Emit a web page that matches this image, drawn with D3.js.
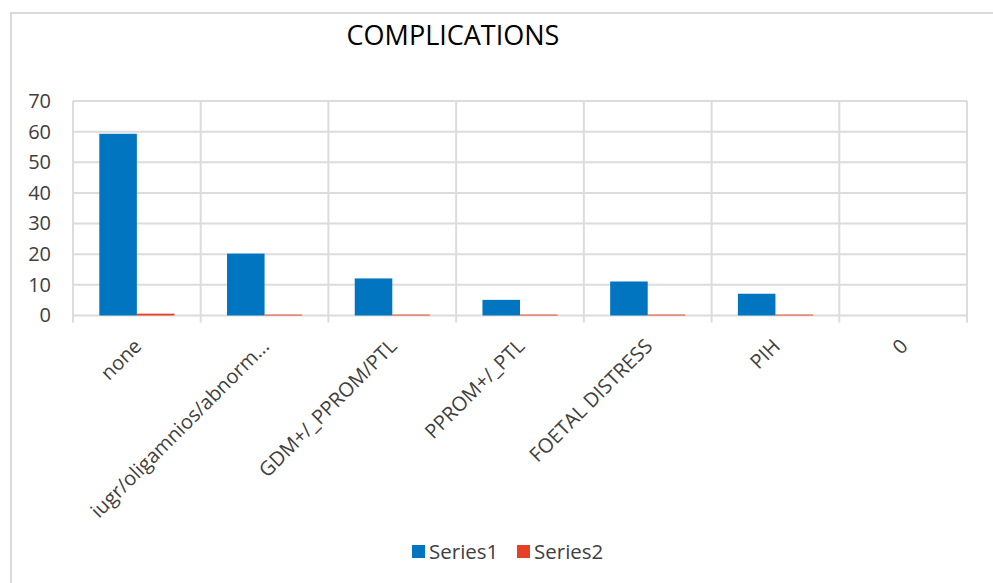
<!DOCTYPE html>
<html>
<head>
<meta charset="utf-8">
<script src="https://cdn.jsdelivr.net/npm/d3@7"></script>
<style>
  html, body { margin: 0; padding: 0; background: #fff; }
  svg { display: block; }
  text { font-family: "Open Sans", sans-serif; }
</style>
</head>
<body>
<svg id="chart" width="993" height="583"></svg>
<script>
// Chart data
const categories = ["none", "iugr/oligamnios/abnorm...", "GDM+/_PPROM/PTL", "PPROM+/_PTL", "FOETAL DISTRESS", "PIH", "0"];
const seriesNames = ["Series1", "Series2"];
const series1 = [59.3, 20.2, 12.1, 5.1, 11.1, 7.1, 0];
const series2 = [0.6, 0.3, 0.3, 0.3, 0.3, 0.3, 0];
const yTicks = [0, 10, 20, 30, 40, 50, 60, 70];
const chartTitle = "COMPLICATIONS";

const colors = { Series1: "#0275C1", Series2: "#E64025" };
const gridColor = "#DCDCDC";
const textColor = "#404040";

const svg = d3.select("#chart");

// Outer chart frame
svg.append("rect")
  .attr("x", 11).attr("y", 13)
  .attr("width", 1000).attr("height", 600)
  .attr("fill", "#fff")
  .attr("stroke", "#DADADA")
  .attr("stroke-width", 2);

const plot = { left: 73, right: 967, top: 101, bottom: 315.5 };

const x0 = d3.scaleBand()
  .domain(categories)
  .range([plot.left, plot.right])
  .padding(0);

const bw = x0.bandwidth();
const x1 = d3.scaleBand()
  .domain(seriesNames)
  .range([bw * 0.206, bw * 0.794])
  .padding(0);

const y = d3.scaleLinear()
  .domain([0, 70])
  .range([plot.bottom, plot.top]);

// Horizontal gridlines
svg.append("g")
  .selectAll("line")
  .data(yTicks)
  .join("line")
  .attr("x1", plot.left).attr("x2", plot.right)
  .attr("y1", d => y(d)).attr("y2", d => y(d))
  .attr("stroke", gridColor)
  .attr("stroke-width", 2);

// Vertical category separators, extending slightly below the baseline
const bounds = categories.map(c => x0(c)).concat([plot.right]);
svg.append("g")
  .selectAll("line")
  .data(bounds)
  .join("line")
  .attr("x1", d => d).attr("x2", d => d)
  .attr("y1", plot.top).attr("y2", plot.bottom + 7)
  .attr("stroke", gridColor)
  .attr("stroke-width", 2);

// Y axis labels
const yAxis = d3.axisLeft(y).tickValues(yTicks).tickSize(0).tickPadding(22);
const yG = svg.append("g")
  .attr("transform", `translate(${plot.left},0)`)
  .call(yAxis);
yG.select(".domain").remove();
yG.selectAll("text")
  .attr("font-family", "'Open Sans', sans-serif")
  .attr("font-size", 20)
  .attr("fill", textColor);

// Bars
const rows = categories.map((c, i) => ({ cat: c, Series1: series1[i], Series2: series2[i] }));
svg.append("g")
  .selectAll("g")
  .data(rows)
  .join("g")
  .attr("transform", d => `translate(${x0(d.cat)},0)`)
  .selectAll("rect")
  .data(d => seriesNames.map(s => ({ s, v: d[s] })))
  .join("rect")
  .attr("x", d => x1(d.s))
  .attr("width", x1.bandwidth())
  .attr("y", d => y(d.v))
  .attr("height", d => y(0) - y(d.v))
  .attr("fill", d => colors[d.s]);

// Category labels rotated 45 degrees
svg.append("g")
  .selectAll("text")
  .data(categories)
  .join("text")
  .attr("transform", d => `translate(${x0(d) + bw / 2 + 1},${plot.bottom + 27}) rotate(-45)`)
  .attr("text-anchor", "end")
  .attr("dy", "0.35em")
  .attr("font-size", 20)
  .attr("fill", textColor)
  .text(d => d);

// Title
svg.append("text")
  .attr("x", 453).attr("y", 45)
  .attr("text-anchor", "middle")
  .attr("font-family", "Lato, 'Open Sans', sans-serif")
  .attr("font-size", 27)
  .attr("fill", "#000")
  .text(chartTitle);

// Legend
const legend = svg.append("g").attr("transform", "translate(412,545)");
const items = legend.selectAll("g")
  .data(seriesNames)
  .join("g")
  .attr("transform", (d, i) => `translate(${i * 105},0)`);
items.append("rect")
  .attr("width", 13).attr("height", 13)
  .attr("fill", d => colors[d]);
items.append("text")
  .attr("x", 17).attr("y", 6.5)
  .attr("dy", "0.35em")
  .attr("font-size", 20.5)
  .attr("fill", textColor)
  .text(d => d);
</script>
</body>
</html>
